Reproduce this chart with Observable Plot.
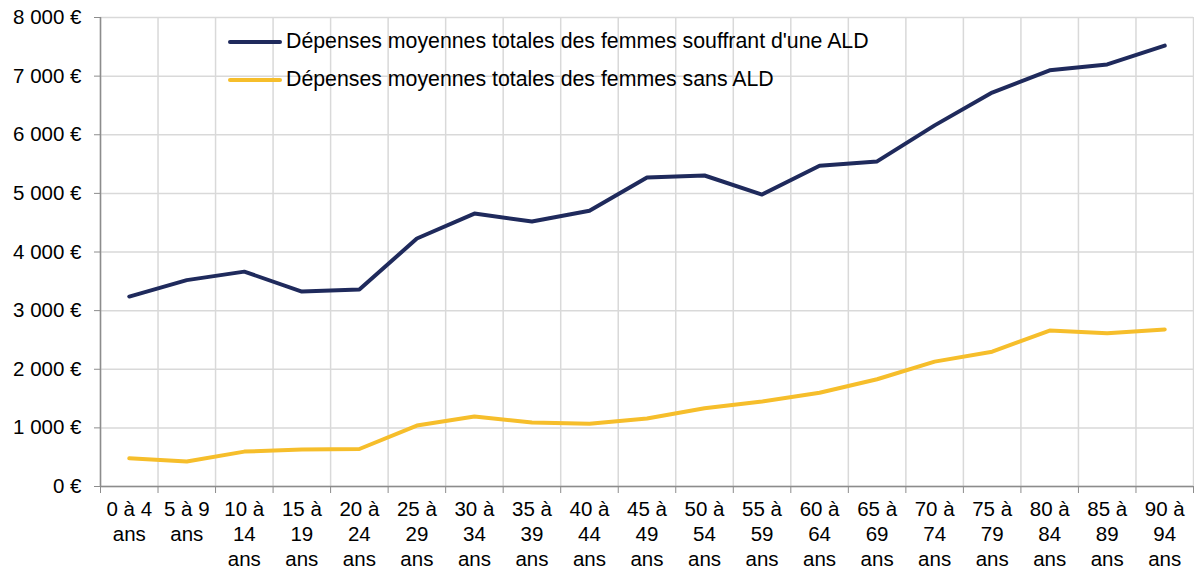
<!DOCTYPE html>
<html>
<head>
<meta charset="utf-8">
<script src="https://cdn.jsdelivr.net/npm/d3@7"></script>
<script src="https://cdn.jsdelivr.net/npm/@observablehq/plot@0.6"></script>
<style>
  body { margin: 0; background: #fff; font-family: "Liberation Sans", Arial, sans-serif; }
  #wrap { position: relative; width: 1194px; height: 572px; }
  .leg { position: absolute; left: 228px; display: flex; align-items: center; font-size: 21.3px; color: #000; white-space: nowrap; }
  .leg .sw { width: 54px; height: 4px; border-radius: 2px; margin-right: 4px; }
</style>
</head>
<body>
<div id="wrap"></div>
<script>
const ageGroups = ["0 à 4 ans","5 à 9 ans","10 à 14 ans","15 à 19 ans","20 à 24 ans","25 à 29 ans","30 à 34 ans","35 à 39 ans","40 à 44 ans","45 à 49 ans","50 à 54 ans","55 à 59 ans","60 à 64 ans","65 à 69 ans","70 à 74 ans","75 à 79 ans","80 à 84 ans","85 à 89 ans","90 à 94 ans"];
const avecALD = [3240,3520,3665,3325,3360,4230,4655,4520,4705,5270,5305,4980,5470,5545,6160,6720,7100,7200,7520];
const sansALD = [480,425,595,630,640,1040,1195,1090,1070,1160,1335,1450,1600,1830,2130,2300,2660,2615,2680];
const seriesNames = ["Dépenses moyennes totales des femmes souffrant d'une ALD","Dépenses moyennes totales des femmes sans ALD"];
const colors = ["#1f2a5c","#f6be2b"];
const yTicks = [0,1000,2000,3000,4000,5000,6000,7000,8000];

const rows = [];
ageGroups.forEach((g,i) => {
  rows.push({i: i + 0.5, v: avecALD[i], s: seriesNames[0]});
  rows.push({i: i + 0.5, v: sansALD[i], s: seriesNames[1]});
});
const wrapLabel = g => {
  const m = g.match(/^(\d+) à (\d+) ans$/);
  return m[1].length === 1 ? `${m[1]} à ${m[2]}\nans` : `${m[1]} à\n${m[2]}\nans`;
};
const bounds = d3.range(0, ageGroups.length + 1);
const centers = ageGroups.map((g,i) => i + 0.5);
const fmtY = d => d === 0 ? "0 €" : `${d/1000} 000 €`;

const chart = Plot.plot({
  width: 1194,
  height: 572,
  marginLeft: 100,
  marginRight: 1,
  marginTop: 17,
  marginBottom: 86,
  style: {fontFamily: "'Liberation Sans', Arial, sans-serif", fontSize: "20.5px", color: "#000", background: "#fff"},
  x: {type: "linear", domain: [0, ageGroups.length]},
  y: {domain: [0, 8000]},
  color: {domain: seriesNames, range: colors},
  marks: [
    Plot.gridX(bounds, {stroke: "#d9d9d9", strokeOpacity: 1, strokeWidth: 1.5}),
    Plot.gridY(yTicks, {stroke: "#d9d9d9", strokeOpacity: 1, strokeWidth: 1.5}),
    Plot.ruleX([0], {stroke: "#8c8c8c", strokeWidth: 1.5}),
    Plot.ruleY([0], {stroke: "#8c8c8c", strokeWidth: 1.5}),
    Plot.axisY({ticks: yTicks, tickFormat: fmtY, tickSize: 6, tickPadding: 13, stroke: "#8c8c8c", fill: "#000", fontSize: 20.5, label: null}),
    Plot.axisX({ticks: bounds, tickFormat: () => "", tickSize: 7, stroke: "#8c8c8c", label: null}),
    Plot.axisX({ticks: centers, tickSize: 0, tickPadding: 12, tickFormat: d => wrapLabel(ageGroups[Math.round(d - 0.5)]), lineHeight: 1.22, fontSize: 20.5, fill: "#000", label: null}),
    Plot.line(rows, {x: "i", y: "v", z: "s", stroke: "s", strokeWidth: 4, strokeLinejoin: "round", strokeLinecap: "round"})
  ]
});
const wrap = document.getElementById("wrap");
wrap.appendChild(chart);
seriesNames.forEach((n, k) => {
  const d = document.createElement("div");
  d.className = "leg";
  d.style.top = (k === 0 ? 29 : 67) + "px";
  d.innerHTML = `<span class="sw" style="background:${colors[k]}"></span><span>${n}</span>`;
  wrap.appendChild(d);
});
</script>
</body>
</html>
